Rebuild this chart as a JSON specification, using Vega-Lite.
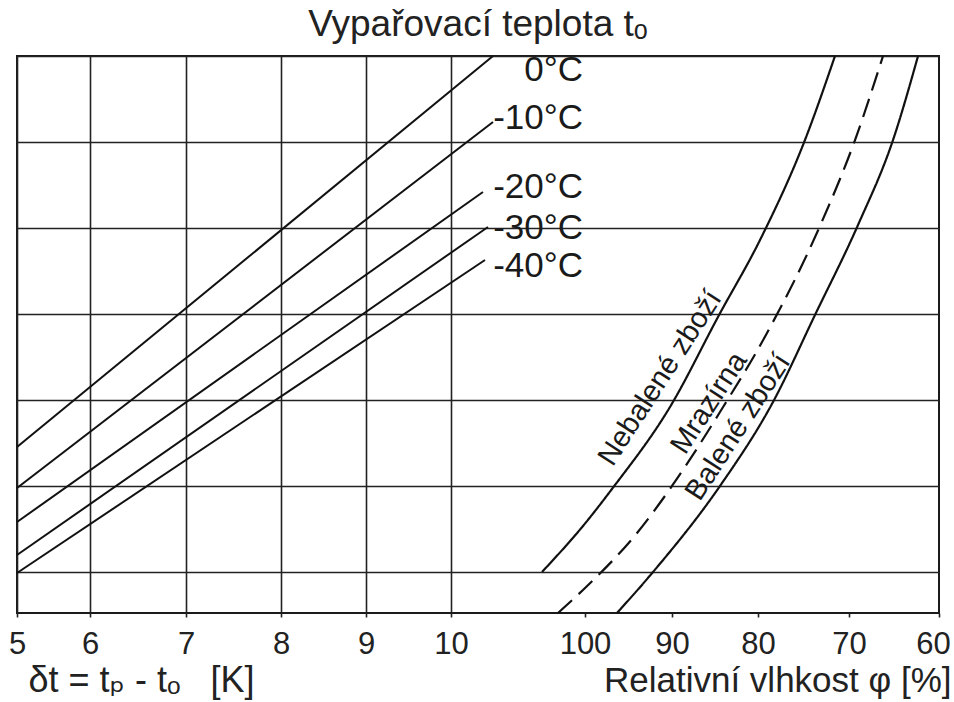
{
  "$schema": "https://vega.github.io/schema/vega-lite/v6.json",
  "width": 922,
  "height": 557,
  "autosize": {"type": "none"},
  "padding": {"left": 17, "top": 56, "right": 15, "bottom": 89},
  "background": "white",
  "title": {
    "text": "Vypařovací teplota tₒ",
    "anchor": "middle",
    "baseline": "alphabetic",
    "offset": 18,
    "dy": 39,
    "fontSize": 37,
    "fontWeight": "normal",
    "font": "Liberation Sans, DejaVu Sans",
    "color": "#222"
  },
  "config": {
    "font": "Liberation Sans, DejaVu Sans",
    "view": {"stroke": "#1a1a1a", "strokeWidth": 2},
    "axis": {
      "domain": false,
      "grid": true,
      "gridColor": "#222",
      "gridWidth": 1.6,
      "gridOpacity": 1,
      "ticks": true,
      "tickSize": 4,
      "tickColor": "#222",
      "tickWidth": 1.6,
      "labelFont": "Liberation Sans, DejaVu Sans",
      "labelFontSize": 31,
      "labelColor": "#222",
      "labelPadding": 12,
      "labelFlush": false,
      "titleFont": "Liberation Sans, DejaVu Sans",
      "titleFontSize": 35,
      "titleFontWeight": "normal",
      "titleColor": "#222"
    }
  },
  "datasets": {
    "leftLines": [
      {"t": "0°C", "dt": 5, "y": 1.453},
      {"t": "0°C", "dt": 10.494, "y": 6.0},
      {"t": "-10°C", "dt": 5, "y": 0.977},
      {"t": "-10°C", "dt": 10.494, "y": 5.233},
      {"t": "-20°C", "dt": 5, "y": 0.581},
      {"t": "-20°C", "dt": 10.376, "y": 4.419},
      {"t": "-30°C", "dt": 5, "y": 0.198},
      {"t": "-30°C", "dt": 10.435, "y": 4.012},
      {"t": "-40°C", "dt": 5, "y": -0.012},
      {"t": "-40°C", "dt": 10.4, "y": 3.628}
    ],
    "tempLabels": [
      {"label": "0°C", "dt": 11.553, "y": 5.837},
      {"label": "-10°C", "dt": 11.553, "y": 5.279},
      {"label": "-20°C", "dt": 11.553, "y": 4.477},
      {"label": "-30°C", "dt": 11.553, "y": 4.0},
      {"label": "-40°C", "dt": 11.553, "y": 3.558}
    ],
    "curves": [
      {"curve": "Nebalené zboží", "phi": 104.94, "y": 0.0},
      {"curve": "Nebalené zboží", "phi": 100.23, "y": 0.535},
      {"curve": "Nebalené zboží", "phi": 96.9, "y": 0.965},
      {"curve": "Nebalené zboží", "phi": 90.23, "y": 1.919},
      {"curve": "Nebalené zboží", "phi": 84.53, "y": 2.988},
      {"curve": "Nebalené zboží", "phi": 79.78, "y": 3.86},
      {"curve": "Nebalené zboží", "phi": 74.84, "y": 5.023},
      {"curve": "Nebalené zboží", "phi": 71.54, "y": 6.0},
      {"curve": "Mrazírna", "phi": 103.1, "y": -0.477},
      {"curve": "Mrazírna", "phi": 100.23, "y": -0.209},
      {"curve": "Mrazírna", "phi": 94.02, "y": 0.453},
      {"curve": "Mrazírna", "phi": 90.0, "y": 1.0},
      {"curve": "Mrazírna", "phi": 84.42, "y": 1.86},
      {"curve": "Mrazírna", "phi": 79.01, "y": 2.779},
      {"curve": "Mrazírna", "phi": 73.19, "y": 4.023},
      {"curve": "Mrazírna", "phi": 69.33, "y": 5.023},
      {"curve": "Mrazírna", "phi": 66.22, "y": 6.0},
      {"curve": "Balené zboží", "phi": 96.32, "y": -0.477},
      {"curve": "Balené zboží", "phi": 92.18, "y": 0.0},
      {"curve": "Balené zboží", "phi": 84.42, "y": 1.0},
      {"curve": "Balené zboží", "phi": 78.35, "y": 1.977},
      {"curve": "Balené zboží", "phi": 73.74, "y": 2.988},
      {"curve": "Balené zboží", "phi": 69.0, "y": 4.035},
      {"curve": "Balené zboží", "phi": 65.11, "y": 5.023},
      {"curve": "Balené zboží", "phi": 62.33, "y": 6.0}
    ],
    "curveLabels": [
      {"label": "Nebalené zboží", "phi": 91.38, "y": 2.256},
      {"label": "Mrazírna", "phi": 85.7, "y": 1.965},
      {"label": "Balené zboží", "phi": 82.33, "y": 1.686}
    ]
  },
  "layer": [
    {
      "layer": [
        {
          "data": {"name": "leftLines"},
          "mark": {"type": "line", "color": "#111", "strokeWidth": 2},
          "encoding": {
            "x": {
              "field": "dt",
              "type": "quantitative",
              "scale": {"domain": [5, 6, 7, 8, 9, 10, 15.741], "range": [0, 73, 169, 264, 349, 434, 922], "nice": false, "zero": false},
              "axis": {
                "orient": "bottom",
                "values": [5, 6, 7, 8, 9, 10],
                "format": "d",
                "title": "δt = tₚ - tₒ\u00a0\u00a0\u00a0[K]",
                "titleAnchor": "start",
                "titleAlign": "left",
                "titleBaseline": "alphabetic",
                "titleFontSize": 36,
                "titleX": 11,
                "titleY": 78
              }
            },
            "y": {
              "field": "y",
              "type": "quantitative",
              "scale": {"domain": [-0.477, 6], "nice": false, "zero": false},
              "axis": {"values": [0, 1, 2, 3, 4, 5, 6], "labels": false, "ticks": false, "title": null, "grid": true}
            },
            "detail": {"field": "t"}
          }
        },
        {
          "data": {"name": "tempLabels"},
          "mark": {"type": "text", "align": "right", "baseline": "middle", "fontSize": 35, "color": "#1a1a1a"},
          "encoding": {
            "x": {"field": "dt", "type": "quantitative"},
            "y": {"field": "y", "type": "quantitative"},
            "text": {"field": "label"}
          }
        }
      ]
    },
    {
      "layer": [
        {
          "data": {"name": "curves"},
          "mark": {"type": "line", "color": "#111", "strokeWidth": 2.2, "interpolate": "monotone"},
          "encoding": {
            "x": {
              "field": "phi",
              "type": "quantitative",
              "scale": {"domain": [100, 90, 80, 70, 60], "range": [568, 655, 741, 832, 922], "nice": false, "zero": false},
              "axis": {
                "orient": "bottom",
                "values": [100, 90, 80, 70, 60],
                "format": "d",
                "labelOffset": {"condition": {"test": "datum.value == 60", "value": -6}, "value": 0},
                "title": "Relativní vlhkost φ [%]",
                "titleAnchor": "end",
                "titleAlign": "right",
                "titleBaseline": "alphabetic",
                "titleX": 934,
                "titleY": 78
              }
            },
            "y": {"field": "y", "type": "quantitative"},
            "detail": {"field": "curve"},
            "strokeDash": {
              "field": "curve",
              "type": "nominal",
              "scale": {"domain": ["Nebalené zboží", "Mrazírna", "Balené zboží"], "range": [[1, 0], [19, 9], [1, 0]]},
              "legend": null
            }
          }
        },
        {
          "data": {"name": "curveLabels"},
          "mark": {"type": "text", "align": "center", "baseline": "middle", "angle": 303, "fontSize": 29, "color": "#1a1a1a"},
          "encoding": {
            "x": {"field": "phi", "type": "quantitative"},
            "y": {"field": "y", "type": "quantitative"},
            "text": {"field": "label"}
          }
        }
      ]
    }
  ],
  "resolve": {"scale": {"x": "independent"}, "axis": {"x": "independent"}}
}
